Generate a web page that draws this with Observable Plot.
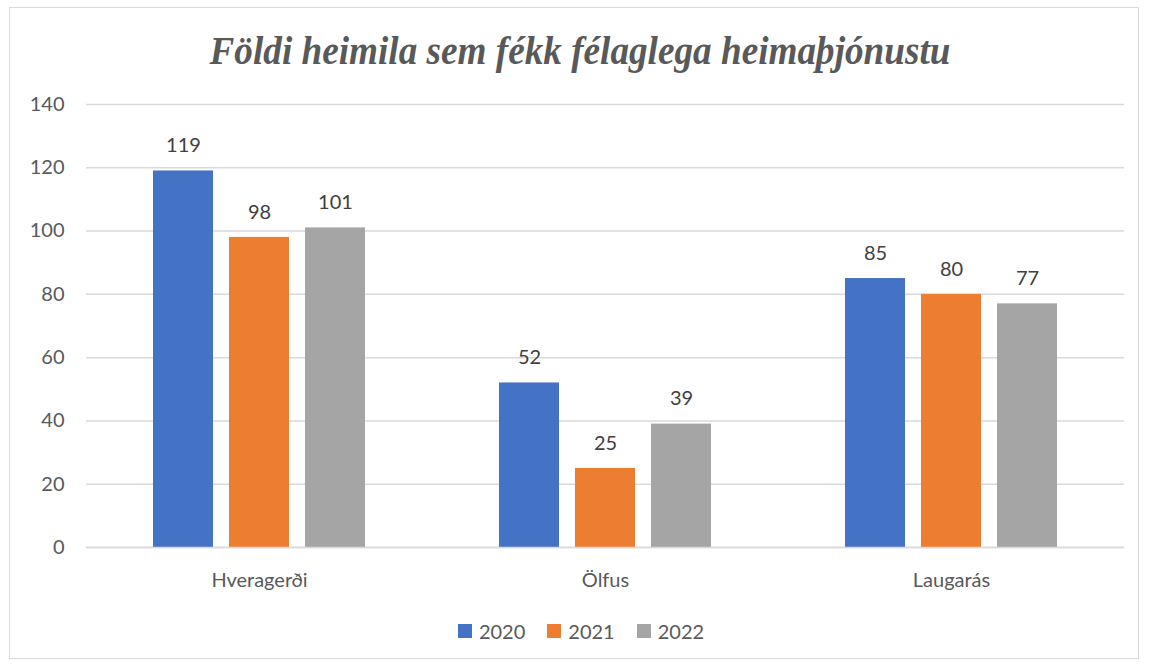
<!DOCTYPE html>
<html>
<head>
<meta charset="utf-8">
<script src="https://cdn.jsdelivr.net/npm/d3@7"></script>
<script src="https://cdn.jsdelivr.net/npm/@observablehq/plot@0.6"></script>
<style>
  html, body { margin: 0; padding: 0; background: #fff; }
  #frame { position: absolute; left: 9px; top: 7px; width: 1130px; height: 652px; border: 1.5px solid #d9d9d9; box-sizing: border-box; }
  #title { position: absolute; left: 0; top: 27px; width: 1160px; text-align: center; font-family: "Liberation Serif", "DejaVu Serif", serif; font-style: italic; font-weight: bold; font-size: 40px; color: #595959; transform: scaleX(0.93); transform-origin: 580px 0; }
  #chart { position: absolute; left: 0; top: 90px; }
  #legend { position: absolute; left: 0; top: 619px; width: 1162px; display: flex; justify-content: center; gap: 22px; font-family: Lato, "Open Sans", sans-serif; font-size: 20px; color: #595959; }
  .item { display: flex; align-items: center; gap: 7px; }
  .sw { width: 14px; height: 14px; display: inline-block; }
</style>
</head>
<body>
<div id="frame"></div>
<div id="title">Földi heimila sem fékk félaglega heimaþjónustu</div>
<div id="chart"></div>
<div id="legend"></div>
<script>
const places = ["Hveragerði", "Ölfus", "Laugarás"];
const years = ["2020", "2021", "2022"];
const values2020 = [119, 52, 85];
const values2021 = [98, 25, 80];
const values2022 = [101, 39, 77];
const colors = ["#4472C4", "#ED7D31", "#A5A5A5"];
const yTicks = [0, 20, 40, 60, 80, 100, 120, 140];

const series = [values2020, values2021, values2022];
const data = [];
places.forEach((p, i) => years.forEach((yr, j) => data.push({place: p, year: yr, value: series[j][i]})));

const chart = Plot.plot({
  width: 1151,
  height: 507,
  marginTop: 14,
  marginBottom: 50,
  marginLeft: 85,
  marginRight: 26,
  style: {fontFamily: "Lato, 'Open Sans', sans-serif", fontSize: "20px", color: "#595959", background: "transparent"},
  fx: {domain: places, padding: 0, label: null},
  x: {domain: years, paddingInner: 0.21, paddingOuter: 0.86, axis: null},
  y: {domain: [0, 140], ticks: yTicks, label: null},
  color: {domain: years, range: colors},
  marks: [
    Plot.gridY(yTicks, {stroke: "#d9d9d9", strokeOpacity: 1, strokeWidth: 1.5}),
    Plot.axisY(yTicks, {tickSize: 0, tickPadding: 22, fontSize: 20, fill: "#595959", anchor: "left", facetAnchor: "left"}),
    Plot.axisFx({anchor: "bottom", tickSize: 0, tickPadding: 25, fontSize: 20, fill: "#595959", label: null}),
    Plot.barY(data, {fx: "place", x: "year", y: "value", fill: "year"}),
    Plot.text(data, {fx: "place", x: "year", y: "value", text: d => String(d.value), dy: -25, fontSize: 20, fill: "#404040"}),
    Plot.ruleY([0], {stroke: "#d9d9d9", strokeWidth: 1.5})
  ]
});
document.getElementById("chart").appendChild(chart);

const legend = document.getElementById("legend");
years.forEach((yr, j) => {
  const it = document.createElement("div");
  it.className = "item";
  const sw = document.createElement("span");
  sw.className = "sw";
  sw.style.background = colors[j];
  const t = document.createElement("span");
  t.textContent = yr;
  it.appendChild(sw); it.appendChild(t);
  legend.appendChild(it);
});
</script>
</body>
</html>
